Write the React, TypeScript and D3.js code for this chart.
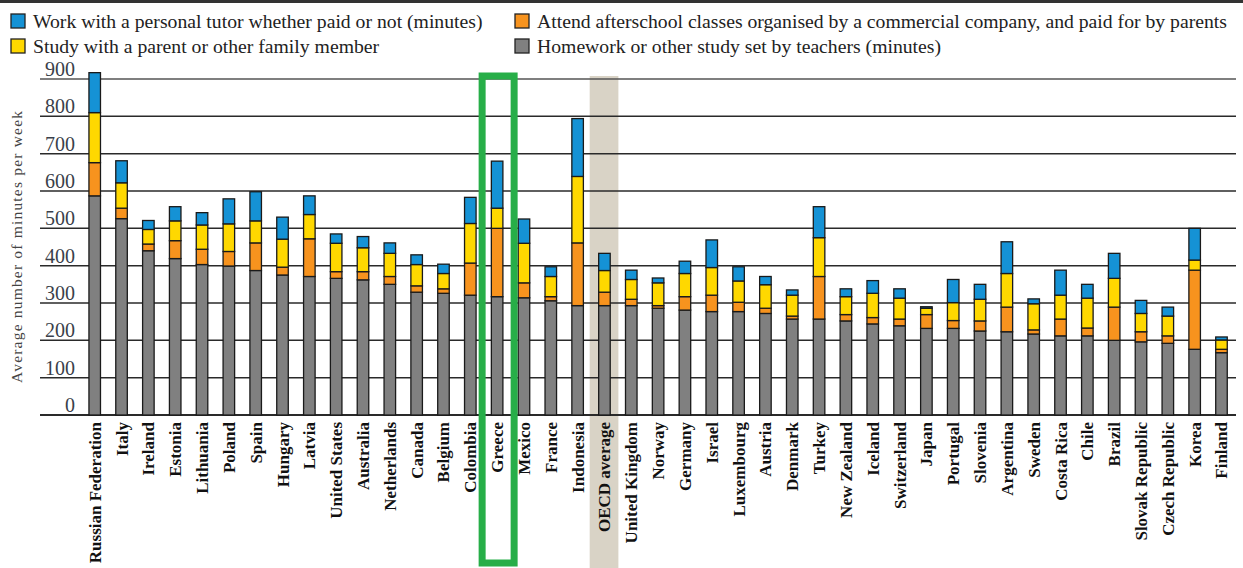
import React from "react";
import * as d3 from "d3";

const categories = ["Russian Federation","Italy","Ireland","Estonia","Lithuania","Poland","Spain","Hungary","Latvia","United States","Australia","Netherlands","Canada","Belgium","Colombia","Greece","Mexico","France","Indonesia","OECD average","United Kingdom","Norway","Germany","Israel","Luxembourg","Austria","Denmark","Turkey","New Zealand","Iceland","Switzerland","Japan","Portugal","Slovenia","Argentina","Sweden","Costa Rica","Chile","Brazil","Slovak Republic","Czech Republic","Korea","Finland"];

const homework = [587,526,440,419,403,399,387,375,371,366,362,350,329,326,321,317,314,306,293,293,293,286,281,277,277,272,257,257,252,244,239,232,232,225,223,217,212,212,200,196,192,176,167];
const afterschool = [89,28,18,48,41,39,74,21,101,18,22,21,17,12,86,183,40,11,168,36,17,7,36,44,25,14,8,114,17,17,18,37,21,27,66,11,45,21,89,27,20,212,9];
const family = [134,68,39,53,65,74,59,75,65,76,64,62,57,41,106,54,106,54,178,58,53,61,62,74,57,63,56,104,48,65,56,17,48,58,90,70,64,80,77,49,53,27,25];
const tutor = [107,59,24,38,33,67,78,59,50,25,30,28,26,25,70,126,65,26,155,46,25,13,33,74,38,22,14,83,21,34,25,4,62,40,85,13,67,37,67,35,24,85,8];

const yTicks = [0,100,200,300,400,500,600,700,800,900];

const seriesKeys = ["homework","afterschool","family","tutor"];
const seriesColors: Record<string,string> = {
  homework: "#808080",
  afterschool: "#f7931e",
  family: "#ffd800",
  tutor: "#1592d5",
};
const legendItems = [
  { key: "tutor", label: "Work with a personal tutor whether paid or not (minutes)", col: 0, row: 0 },
  { key: "afterschool", label: "Attend afterschool classes organised by a commercial company, and paid for by parents", col: 1, row: 0 },
  { key: "family", label: "Study with a parent or other family member", col: 0, row: 1 },
  { key: "homework", label: "Homework or other study set by teachers (minutes)", col: 1, row: 1 },
];

const highlight = "Greece";
const average = "OECD average";

export default function App() {
  const W = 1243, H = 568;
  const x = d3.scaleBand<string>().domain(categories).range([81.3, 1234.9]).paddingInner(0.57).paddingOuter(0.285);
  const y = d3.scaleLinear().domain([0, 900]).range([415, 79]);

  const rows = categories.map((c, i) => ({ cat: c, homework: homework[i], afterschool: afterschool[i], family: family[i], tutor: tutor[i] }));
  const stacked = d3.stack<any>().keys(seriesKeys)(rows);

  const serif = "'Liberation Serif', 'DejaVu Serif', serif";
  const step = x.step();
  const avgX = (x(average) as number) + x.bandwidth() / 2;
  const hiX = (x(highlight) as number) + x.bandwidth() / 2;

  return (
    <svg width={W} height={H} style={{ position: "absolute", left: 0, top: 0, background: "#fff" }}>
      <rect x={0} y={0} width={W} height={H} fill="#fff" />
      <line x1={0} x2={W} y1={1.5} y2={1.5} stroke="#333" strokeWidth={3} />
      {/* legend */}
      {legendItems.map((d) => {
        const lx = d.col === 0 ? 11 : 515;
        const ly = d.row === 0 ? 14 : 39;
        return (
          <g key={d.key}>
            <rect x={lx} y={ly} width={14} height={14} fill={seriesColors[d.key]} stroke="#222" strokeWidth={1.3} />
            <text x={lx + 22} y={ly + 14} fontFamily={serif} fontSize={19.7} fill="#222">{d.label}</text>
          </g>
        );
      })}
      {/* OECD average band */}
      <rect x={avgX - step * 0.55} y={76} width={step * 1.07} height={H - 76} fill="#d9d3c6" />
      {/* gridlines */}
      {yTicks.map((t) => (
        <g key={t}>
          <line x1={40} x2={1236} y1={y(t)} y2={y(t)} stroke={t === 900 ? "#555" : "#2a2a2a"} strokeWidth={t === 0 ? 2 : 1.5} />
          <text x={75} y={y(t) - 3} textAnchor="end" fontFamily={serif} fontSize={20} fill="#3a3f4a">{t}</text>
        </g>
      ))}
      {/* bars */}
      {stacked.map((s) => (
        <g key={s.key}>
          {s.map((d: any, i: number) => (
            <rect key={i} x={x(categories[i])} y={y(d[1])} width={x.bandwidth()} height={Math.max(0, y(d[0]) - y(d[1]))}
              fill={seriesColors[s.key]} stroke="#1a1a1a" strokeWidth={1.3} />
          ))}
        </g>
      ))}
      {/* highlight box */}
      <rect x={hiX - 15} y={76} width={32} height={487} fill="none" stroke="#27ae48" strokeWidth={7} />
      {/* category labels */}
      {categories.map((c) => {
        const cx = (x(c) as number) + x.bandwidth() / 2;
        return (
          <text key={c} transform={`translate(${cx + 6},422) rotate(-90)`} textAnchor="end" fontFamily={serif}
            fontSize={17} fontWeight="bold" fill="#111">{c}</text>
        );
      })}
      {/* y axis title */}
      <text transform={`translate(22,247) rotate(-90)`} textAnchor="middle" fontFamily={serif} fontSize={15.5} fill="#444"
        textLength={272} lengthAdjust="spacing">
        Average number of minutes per week
      </text>
    </svg>
  );
}
